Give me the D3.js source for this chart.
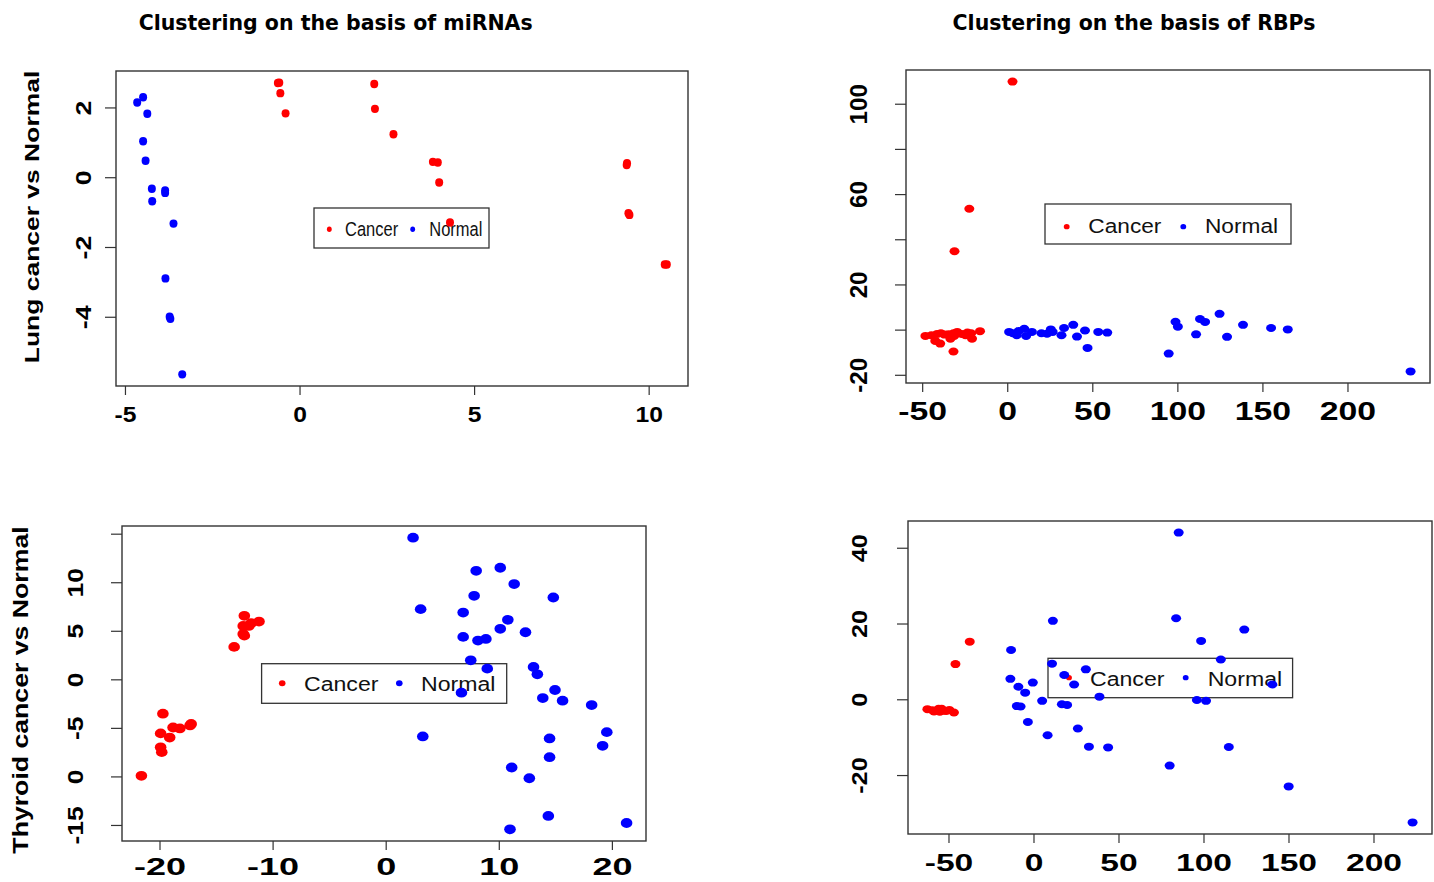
<!DOCTYPE html>
<html>
<head>
<meta charset="utf-8">
<script src="https://cdn.jsdelivr.net/npm/d3@7"></script>
<style>
  body { margin: 0; background: #fff; }
  svg { display: block; }
</style>
</head>
<body>
<svg id="chart" width="1434" height="882"></svg>
<script>
// Lung cancer vs normal, miRNA clustering
const lungMirnaCancer = [[-0.62,2.70],[-0.58,2.71],[-0.55,2.41],[-0.40,1.83],[2.14,2.67],[2.16,1.96],[2.69,1.23],
  [3.82,0.44],[3.96,0.42],[4.00,-0.15],[4.31,-1.30],[9.37,0.35],[9.38,0.40],[9.42,-1.03],[9.45,-1.08],[10.46,-2.50],[10.52,-2.50]];
const lungMirnaNormal = [[-4.65,2.14],[-4.48,2.29],[-4.36,1.82],[-4.48,1.03],[-4.41,0.47],[-4.23,-0.33],[-3.85,-0.38],
  [-3.85,-0.45],[-4.22,-0.69],[-3.61,-1.33],[-3.84,-2.90],[-3.72,-4.00],[-3.70,-4.06],[-3.36,-5.65]];

// Lung cancer vs normal, RBP clustering
const lungRbpCancer = [[3.1,109.8],[-22.3,53.5],[-31.0,34.7],[-31.6,-9.7],[-48.1,-2.8],[-44.6,-2.5],[-41.2,-1.9],[-39.0,-1.6],
  [-36.8,-2.2],[-34.5,-2.1],[-31.6,-1.6],[-29.4,-1.0],[-26.7,-1.9],[-23.4,-1.3],[-21.2,-1.6],[-16.0,-0.7],[-42.3,-5.0],
  [-39.4,-6.2],[-33.4,-4.0],[-20.7,-4.0],[-31.2,-2.8],[-24.5,-2.5]];
const lungRbpNormal = [[1.1,-1.0],[3.3,-1.6],[5.6,-2.5],[6.7,-0.6],[10.0,0.4],[11.1,-2.8],[14.5,-1.0],[20.1,-1.6],[23.4,-1.8],
  [25.6,0.1],[26.7,-1.0],[31.9,-2.5],[33.4,0.7],[38.8,2.1],[41.0,-3.1],[45.7,-0.4],[47.2,-8.1],[53.5,-1.0],[58.8,-1.3],
  [94.9,-10.6],[98.9,3.5],[100.3,1.3],[111.0,-2.1],[113.3,4.7],[116.3,3.4],[124.8,7.0],[129.2,-3.2],[138.6,2.1],
  [155.1,0.7],[164.9,0.1],[237.1,-18.5]];

// Thyroid cancer vs normal, miRNA clustering
const thyroidMirnaCancer = [[-21.6,-9.94],[-19.9,-7.0],[-19.8,-7.5],[-19.9,-5.57],[-19.1,-6.0],[-19.7,-3.54],[-18.8,-4.96],
  [-18.2,-5.06],[-17.3,-4.75],[-17.2,-4.6],[-13.4,3.34],[-12.5,6.54],[-12.6,5.5],[-12.6,4.68],[-12.5,4.5],[-12.1,5.5],
  [-11.9,5.78],[-11.2,5.95]];
const thyroidMirnaNormal = [[2.42,14.59],[3.09,7.23],[3.28,-5.88],[6.70,-1.38],[6.85,6.88],[6.85,4.37],[7.52,1.96],[7.82,8.60],
  [8.00,11.18],[8.16,3.99],[8.86,4.16],[8.98,1.10],[10.13,11.49],[10.13,5.20],[10.80,6.13],[11.36,9.81],[11.14,-9.08],
  [10.99,-15.45],[12.36,4.85],[12.70,-10.19],[13.07,1.27],[13.41,0.52],[13.89,-1.93],[14.49,-6.09],[14.49,-8.02],
  [14.38,-14.07],[14.82,8.43],[14.97,-1.10],[15.64,-2.20],[18.21,-2.65],[19.18,-6.85],[19.55,-5.44],[21.30,-14.80]];

// Thyroid cancer vs normal, RBP clustering
const thyroidRbpCancer = [[-62.4,-2.6],[-59.5,-2.9],[-57.3,-3.0],[-55.8,-2.5],[-54.0,-2.5],[-52.9,-3.0],[-51.3,-3.1],
  [-49.5,-2.8],[-46.8,-3.5],[-55.1,-3.3],[-58.5,-3.2],[-45.9,9.3],[-37.5,15.2]];
const thyroidRbpNormal = [[85.4,44.0],[83.9,21.4],[11.4,20.7],[124.0,18.4],[98.6,15.4],[-13.2,13.0],[110.2,10.5],[10.9,9.4],
  [30.8,7.9],[-13.6,5.4],[18.1,6.4],[-8.9,3.3],[-0.4,4.4],[23.9,3.9],[-4.9,1.75],[38.8,0.7],[140.5,3.9],[5.1,-0.4],
  [96.1,-0.2],[101.5,-0.4],[-9.8,-1.8],[-7.6,-1.9],[16.7,-1.3],[19.8,-1.5],[-3.3,-6.0],[26.1,-7.7],[8.3,-9.5],
  [32.6,-12.5],[43.9,-12.7],[114.9,-12.6],[80.1,-17.5],[150.1,-23.0],[223.0,-32.5]];

// tick values and labels
const lungMirnaXTicks = [-5, 0, 5, 10];
const lungMirnaXLabels = ["-5", "0", "5", "10"];
const lungMirnaYTicks = [-4, -2, 0, 2];
const lungMirnaYLabels = ["-4", "-2", "0", "2"];
const lungRbpXTicks = [-50, 0, 50, 100, 150, 200];
const lungRbpXLabels = ["-50", "0", "50", "100", "150", "200"];
const lungRbpYTicks = [-20, 0, 20, 40, 60, 80, 100];
const lungRbpYLabels = ["-20", "", "20", "", "60", "", "100"];
const thyroidMirnaXTicks = [-20, -10, 0, 10, 20];
const thyroidMirnaXLabels = ["-20", "-10", "0", "10", "20"];
const thyroidMirnaYTicks = [-15, -10, -5, 0, 5, 10, 15];
const thyroidMirnaYLabels = ["-15", "0", "-5", "0", "5", "10", ""];
const thyroidRbpXTicks = [-50, 0, 50, 100, 150, 200];
const thyroidRbpXLabels = ["-50", "0", "50", "100", "150", "200"];
const thyroidRbpYTicks = [-20, 0, 20, 40];
const thyroidRbpYLabels = ["-20", "0", "20", "40"];

const legendLabels = ["Cancer", "Normal"];
const colTitles = ["Clustering on the basis of miRNAs", "Clustering on the basis of RBPs"];
const rowTitles = ["Lung cancer vs Normal", "Thyroid cancer vs Normal"];

const RED = "#ff0000", BLUE = "#0000ff", INK = "#333";
const HELV = "'Liberation Sans', Arial, sans-serif";
const DEJA = "'DejaVu Sans', sans-serif";

const svg = d3.select("#chart");

const panels = [
  { cancer: lungMirnaCancer, normal: lungMirnaNormal, box: [116, 71, 688, 386],
    xTicks: lungMirnaXTicks, xLabels: lungMirnaXLabels, yTicks: lungMirnaYTicks, yLabels: lungMirnaYLabels,
    xLab: { base: 422, size: 22, sx: 1.12, sy: 1 }, yLab: { base: 91, size: 22, sx: 1, sy: 1.22 },
    dot: { rx: 4, ry: 4.2 },
    legend: { box: [314, 208, 489, 248], dotX: [329.3, 412.7], dotY: 229.3, textX: [345, 429.3], base: 235.7,
      size: 16.5, sx: 1, sy: 1.18, rx: 2.4, ry: 2.7 } },
  { cancer: lungRbpCancer, normal: lungRbpNormal, box: [906, 70, 1430, 383],
    xTicks: lungRbpXTicks, xLabels: lungRbpXLabels, yTicks: lungRbpYTicks, yLabels: lungRbpYLabels,
    xLab: { base: 420, size: 25, sx: 1.35, sy: 1 }, yLab: { base: 867, size: 23, sx: 1, sy: 1.05 },
    dot: { rx: 5, ry: 4 },
    legend: { box: [1045, 204, 1291, 244], dotX: [1066.7, 1183.3], dotY: 226.7, textX: [1088.3, 1205], base: 233.3,
      size: 21, sx: 1.08, sy: 1, rx: 2.9, ry: 2.6 } },
  { cancer: thyroidMirnaCancer, normal: thyroidMirnaNormal, box: [122, 526, 646, 841],
    xTicks: thyroidMirnaXTicks, xLabels: thyroidMirnaXLabels, yTicks: thyroidMirnaYTicks, yLabels: thyroidMirnaYLabels,
    xLab: { base: 875, size: 24, sx: 1.5, sy: 1 }, yLab: { base: 83, size: 22, sx: 1, sy: 1.2 },
    dot: { rx: 5.8, ry: 4.9 },
    legend: { box: [261.6, 663.7, 506.7, 703.3], dotX: [282.2, 399.3], dotY: 683.3, textX: [304, 421], base: 690.7,
      size: 21, sx: 1.1, sy: 1, rx: 3.3, ry: 3 } },
  { cancer: thyroidRbpCancer, normal: thyroidRbpNormal, box: [908, 521, 1432, 834],
    xTicks: thyroidRbpXTicks, xLabels: thyroidRbpXLabels, yTicks: thyroidRbpYTicks, yLabels: thyroidRbpYLabels,
    xLab: { base: 871, size: 24, sx: 1.4, sy: 1 }, yLab: { base: 867, size: 22, sx: 1, sy: 1.15 },
    dot: { rx: 5, ry: 4 },
    legend: { box: [1048, 658.3, 1292.6, 697.7], dotX: [1069, 1185.7], dotY: 677.7, textX: [1090, 1207.7], base: 685.5,
      size: 21, sx: 1.1, sy: 1, rx: 2.9, ry: 2.6 } }
];

// R-style axis range: data extent plus 4% each side
function padded(values) {
  const [lo, hi] = d3.extent(values);
  const p = (hi - lo) * 0.04;
  return [lo - p, hi + p];
}

function drawPanel(p) {
  const [x0, y0, x1, y1] = p.box;
  const all = p.cancer.concat(p.normal);
  const x = d3.scaleLinear().domain(padded(all.map(d => d[0]))).range([x0, x1]);
  const y = d3.scaleLinear().domain(padded(all.map(d => d[1]))).range([y1, y0]);

  // x axis
  const gx = svg.append("g").attr("transform", `translate(0,${y1})`)
    .call(d3.axisBottom(x).tickValues(p.xTicks).tickFormat((d, i) => p.xLabels[i]).tickSize(9).tickSizeOuter(0));
  gx.select(".domain").remove();
  gx.selectAll("line").attr("stroke", INK).attr("stroke-width", 1.2);
  gx.selectAll("text")
    .attr("y", 0).attr("dy", null).attr("fill", "#000")
    .style("font-family", HELV).style("font-weight", "bold").style("font-size", p.xLab.size + "px")
    .attr("transform", `translate(0,${p.xLab.base - y1}) scale(${p.xLab.sx},${p.xLab.sy})`);

  // y axis, labels parallel to the axis
  const gy = svg.append("g").attr("transform", `translate(${x0},0)`)
    .call(d3.axisLeft(y).tickValues(p.yTicks).tickFormat((d, i) => p.yLabels[i]).tickSize(11).tickSizeOuter(0));
  gy.select(".domain").remove();
  gy.selectAll("line").attr("stroke", INK).attr("stroke-width", 1.2);
  gy.selectAll("text")
    .attr("x", 0).attr("dy", null).attr("fill", "#000").attr("text-anchor", "middle")
    .style("font-family", HELV).style("font-weight", "bold").style("font-size", p.yLab.size + "px")
    .attr("transform", `translate(${p.yLab.base - x0},0) scale(${p.yLab.sx},${p.yLab.sy}) rotate(-90)`);

  // legend
  const L = p.legend;
  svg.append("rect")
    .attr("x", L.box[0]).attr("y", L.box[1])
    .attr("width", L.box[2] - L.box[0]).attr("height", L.box[3] - L.box[1])
    .attr("fill", "none").attr("stroke", INK).attr("stroke-width", 1.3);
  [RED, BLUE].forEach((c, i) => {
    svg.append("ellipse").attr("cx", L.dotX[i]).attr("cy", L.dotY).attr("rx", L.rx).attr("ry", L.ry).attr("fill", c);
    svg.append("text")
      .attr("transform", `translate(${L.textX[i]},${L.base}) scale(${L.sx},${L.sy})`)
      .style("font-family", HELV).style("font-size", L.size + "px")
      .attr("fill", "#111")
      .text(legendLabels[i]);
  });

  // points
  [[p.cancer, RED], [p.normal, BLUE]].forEach(([data, color]) => {
    svg.append("g").selectAll("ellipse").data(data).join("ellipse")
      .attr("cx", d => x(d[0])).attr("cy", d => y(d[1]))
      .attr("rx", p.dot.rx).attr("ry", p.dot.ry)
      .attr("fill", color);
  });

  // frame
  svg.append("rect")
    .attr("x", x0).attr("y", y0).attr("width", x1 - x0).attr("height", y1 - y0)
    .attr("fill", "none").attr("stroke", INK).attr("stroke-width", 1.4);
}

panels.forEach(drawPanel);

// column titles
[335.7, 1134].forEach((cx, i) => {
  svg.append("text")
    .attr("x", cx).attr("y", 30).attr("text-anchor", "middle")
    .style("font-family", DEJA).style("font-weight", "bold").style("font-size", "20.5px")
    .text(colTitles[i]);
});

// row titles
[[39, 217, 21, 1.26], [28, 690, 21.5, 1.24]].forEach(([bx, cy, size, sy], i) => {
  svg.append("text")
    .attr("transform", `translate(${bx},${cy}) scale(1,${sy}) rotate(-90)`)
    .attr("text-anchor", "middle")
    .style("font-family", HELV).style("font-weight", "bold").style("font-size", size + "px")
    .text(rowTitles[i]);
});
</script>
</body>
</html>
